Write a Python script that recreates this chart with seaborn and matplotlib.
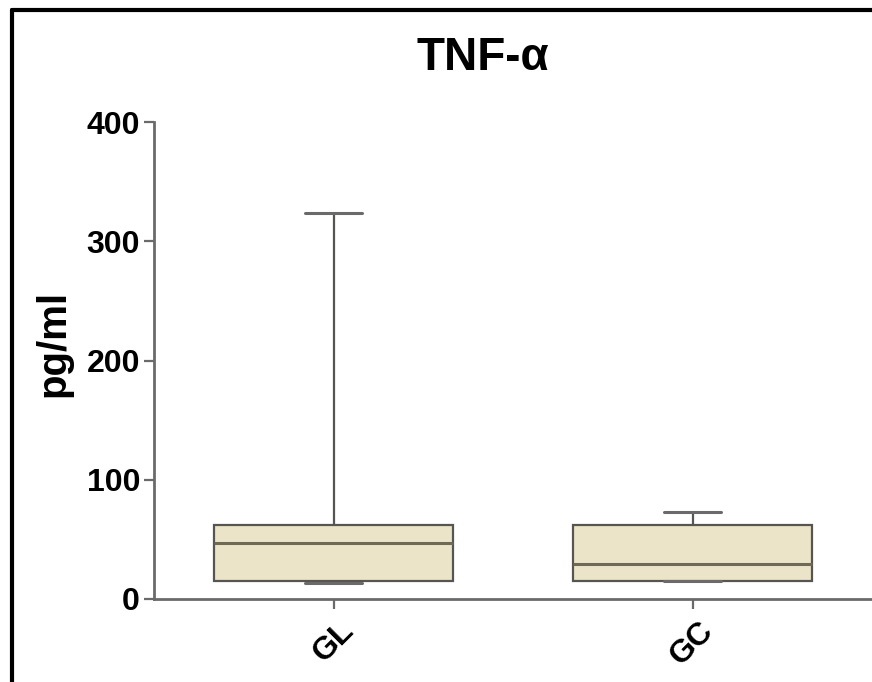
import matplotlib
matplotlib.use("Agg")
import matplotlib.pyplot as plt
from matplotlib.lines import Line2D
import seaborn as sns
import pandas as pd

# Data (min, Q1, median, Q3, max per group)
groups = ["GL", "GC"]
gl_values = [13.5, 15, 47, 62, 324]
gc_values = [15, 15, 29.5, 62, 73]
yticks = [0, 100, 200, 300, 400]

df = pd.DataFrame({
    "group": ["GL"] * len(gl_values) + ["GC"] * len(gc_values),
    "value": gl_values + gc_values,
})

sns.set_style("ticks")
plt.rcParams["font.family"] = ["Liberation Sans", "DejaVu Sans"]
plt.rcParams["text.color"] = "black"
plt.rcParams["axes.labelcolor"] = "black"
plt.rcParams["xtick.labelcolor"] = "black"
plt.rcParams["ytick.labelcolor"] = "black"

fig = plt.figure(figsize=(8.72, 6.82), dpi=100)
ax = fig.add_axes([154 / 872, 83 / 682, 1 - 154 / 872, (599 - 122) / 682])

edge = "#555552"
sns.boxplot(data=df, x="group", y="value", order=groups, ax=ax,
            whis=(0, 100), width=0.667, color="#ece4c8", saturation=1,
            linecolor=edge, linewidth=1.6, capwidths=0.16,
            medianprops=dict(color="#6e6a55", linewidth=2.2),
            whiskerprops=dict(color=edge, linewidth=1.6),
            capprops=dict(color="#6a6a6a", linewidth=2.2),
            showfliers=False)

ax.set_xlim(-0.5, 1.5)
ax.set_ylim(0, 400)
ax.set_yticks(yticks)
ax.set_xlabel("")
ax.set_ylabel("pg/ml", fontsize=29, fontweight="bold", labelpad=10)
ax.yaxis.set_label_coords(-0.114, 0.535)
for lab in ax.get_yticklabels():
    lab.set_fontweight("bold")
    lab.set_fontsize(23)
ax.set_xticks(range(len(groups)))
ax.set_xticklabels(groups, rotation=45, ha="center", va="top",
                   fontsize=23, fontweight="bold")
ax.tick_params(axis="both", length=7, width=1.6, color="#6a6a6a", pad=3)
ax.tick_params(axis="x", pad=5)
for side in ["top", "right"]:
    ax.spines[side].set_visible(False)
for side in ["left", "bottom"]:
    ax.spines[side].set_color("#6a6a6a")
    ax.spines[side].set_linewidth(2)

fig.text(483 / 872, 1 - 58 / 682, "TNF-α", ha="center", va="center",
         fontsize=33, fontweight="bold")

# outer frame (left and top visible in the cropped reference)
fig.add_artist(Line2D([12 / 872, 12 / 872], [0, 1 - 10 / 682], color="black",
                      linewidth=3, transform=fig.transFigure))
fig.add_artist(Line2D([12 / 872, 1], [1 - 10 / 682, 1 - 10 / 682], color="black",
                      linewidth=3, transform=fig.transFigure))

fig.savefig("out.png", dpi=100)
